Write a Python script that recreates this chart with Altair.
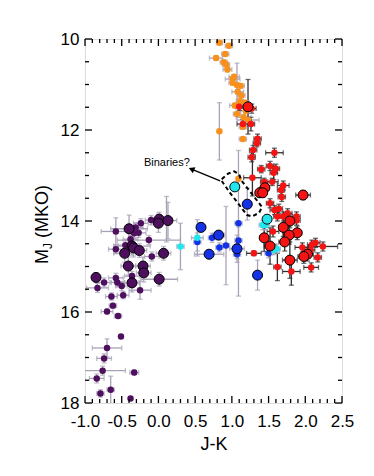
import altair as alt
import pandas as pd

# ---------------- data ----------------
# Orange: early/mid L dwarfs (small symbols, grey error bars)
orange_jk = [0.83, 0.96, 0.91, 0.785, 0.89, 0.92, 0.94, 1.03, 1.07, 1.01, 1.01, 1.12, 1.08, 1.13, 1.11,
             1.04, 1.18, 1.07, 1.19, 1.16, 1.22, 1.15, 1.15, 0.83, 1.09]
orange_mj = [10.08, 10.15, 10.33, 10.42, 10.51, 10.56, 10.67, 10.83, 11.01, 10.88, 10.96, 11.03, 11.16, 11.24, 11.37,
             11.46, 11.40, 11.65, 11.58, 11.72, 11.78, 11.93, 12.20, 12.03, 13.07]
orange_xe = [0.04, 0.05, 0.05, 0.09, 0.05, 0.05, 0.06, 0.07, 0.0, 0.10, 0.05, 0.05, 0.08, 0.05, 0.05,
             0.07, 0.05, 0.05, 0.08, 0.10, 0.15, 0.05, 0.05, 0.0, 0.0]
orange_ye = [0.04, 0.05, 0.05, 0.05, 0.05, 0.05, 0.05, 0.05, 0.48, 0.05, 0.05, 0.05, 0.05, 0.05, 0.05,
             0.05, 0.05, 0.05, 0.05, 0.05, 0.05, 0.05, 0.05, 0.63, 0.0]

# Red: late L / L-T dwarfs, small symbols
red_jk = [1.10, 1.27, 1.15, 1.26, 1.35, 1.34, 1.29, 1.27, 1.58, 1.40, 1.52, 1.60, 1.57, 1.28, 1.55, 1.44,
          1.70, 1.67, 1.68, 1.52, 1.58, 1.64, 1.76, 1.88, 1.62, 1.70, 1.88, 1.56, 1.96, 2.14, 2.24, 2.09,
          2.07, 2.17, 2.08, 1.62, 1.81, 1.30]
red_mj = [11.49, 11.53, 11.87, 11.87, 12.19, 12.29, 12.44, 12.60, 12.50, 12.86, 12.79, 12.85, 12.94, 13.05, 13.14, 13.14,
          13.22, 13.32, 13.47, 13.61, 13.76, 13.73, 13.83, 13.90, 13.90, 13.90, 13.99, 14.23, 14.58, 14.48, 14.56, 14.52,
          14.64, 14.80, 15.02, 15.01, 15.11, 14.71]
red_xe = [0.05, 0.06, 0.08, 0.05, 0.05, 0.05, 0.05, 0.05, 0.12, 0.05, 0.05, 0.05, 0.05, 0.12, 0.08, 0.05,
          0.08, 0.05, 0.05, 0.05, 0.06, 0.05, 0.06, 0.05, 0.05, 0.05, 0.05, 0.08, 0.10, 0.06, 0.20, 0.06,
          0.06, 0.05, 0.10, 0.05, 0.12, 0.10]
red_ye = [0.08, 0.10, 0.10, 0.15, 0.10, 0.08, 0.10, 0.10, 0.10, 0.08, 0.10, 0.10, 0.15, 0.40, 0.08, 0.08,
          0.10, 0.10, 0.10, 0.10, 0.10, 0.10, 0.10, 0.10, 0.10, 0.10, 0.10, 0.12, 0.10, 0.10, 0.10, 0.10,
          0.10, 0.10, 0.10, 0.30, 0.30, 0.05]

# Red: large symbols
redb_jk = [1.22, 1.45, 1.38, 1.42, 1.97, 1.79, 1.70, 1.89, 1.78, 1.44, 1.72, 1.52, 2.03, 1.98, 1.79]
redb_mj = [11.49, 13.27, 13.38, 13.38, 13.43, 14.00, 14.14, 14.26, 14.31, 14.37, 14.46, 14.55, 14.73, 14.78, 14.86]
redb_xe = [0.05, 0.06, 0.05, 0.05, 0.10, 0.06, 0.06, 0.06, 0.08, 0.06, 0.08, 0.08, 0.08, 0.08, 0.10]
redb_ye = [0.60, 0.10, 0.10, 0.10, 0.10, 0.15, 0.20, 0.15, 0.20, 0.30, 0.20, 0.40, 0.15, 0.15, 0.40]

# Blue: mid T dwarfs
blue_jk = [0.73, 1.09, 1.09, 0.92, 0.83, 1.07, 0.53, 1.50]
blue_mj = [14.37, 14.05, 14.43, 14.54, 14.58, 14.73, 14.46, 14.71]
blue_xe = [0.05, 0.05, 0.05, 0.05, 0.05, 0.05, 0.05, 0.05]
blue_ye = [0.10, 1.60, 0.30, 0.86, 0.10, 0.10, 0.20, 0.10]

blueb_jk = [1.21, 0.58, 0.82, 1.07, 0.69, 1.35]
blueb_mj = [13.63, 14.14, 14.31, 14.61, 14.73, 15.19]
blueb_xe = [0.05, 0.05, 0.08, 0.10, 0.20, 0.05]
blueb_ye = [0.35, 0.10, 0.10, 0.30, 0.10, 0.33]

# Cyan
cyan_jk = [1.42, 1.46, 1.61, 1.57, 0.53, 0.30, 0.11]
cyan_mj = [14.09, 14.09, 14.61, 14.64, 14.37, 14.56, 13.96]
cyan_xe = [0.05, 0.05, 0.05, 0.08, 0.08, 0.05, 0.05]
cyan_ye = [0.10, 0.10, 0.10, 0.10, 0.40, 0.51, 0.50]

cyanb_jk = [1.04, 1.48]
cyanb_mj = [13.25, 13.96]
cyanb_xe = [0.0, 0.05]
cyanb_ye = [0.0, 0.10]

# Purple: late T dwarfs
purp_jk = [-0.10, -0.24, -0.31, -0.27, -0.33, -0.58, -0.38, -0.13, -0.45, -0.58, -0.09, -0.36, -0.58, -0.56,
           -0.74, -0.50, -0.83, -0.25, -0.48, -0.64, -0.62, -0.70, -0.55, -0.51, -0.70, -0.74, -0.76, -0.33,
           -0.84, -0.65, -0.79, -0.38]
purp_mj = [13.98, 14.05, 14.14, 14.26, 14.27, 14.23, 14.40, 14.42, 14.53, 14.62, 14.78, 15.21, 15.25, 15.35,
           15.35, 15.43, 15.47, 15.52, 15.63, 15.66, 15.86, 15.99, 16.09, 16.54, 16.79, 17.02, 17.29, 17.33,
           17.46, 17.71, 17.79, 17.90]
purp_xe = [0.08, 0.10, 0.10, 0.10, 0.08, 0.20, 0.10, 0.43, 0.10, 0.10, 0.10, 0.10, 0.10, 0.10,
           0.10, 0.08, 0.15, 0.15, 0.08, 0.08, 0.05, 0.08, 0.05, 0.0, 0.20, 0.10, 0.31, 0.06,
           0.10, 0.05, 0.05, 0.0]
purp_ye = [0.10, 0.10, 0.10, 0.10, 0.10, 0.30, 0.10, 0.10, 0.10, 0.10, 0.10, 0.10, 0.10, 0.10,
           0.10, 0.10, 0.10, 0.20, 0.08, 0.08, 0.05, 0.05, 0.05, 0.0, 0.20, 0.10, 0.10, 0.05,
           0.10, 0.30, 0.08, 0.0]

purpb_jk = [0.01, 0.0, 0.13, -0.40, -0.36, -0.34, -0.46, -0.26, 0.07, -0.41, -0.21, -0.20, -0.85, 0.01, -0.36]
purpb_mj = [13.96, 14.05, 13.99, 14.17, 14.55, 14.59, 14.71, 14.65, 14.71, 14.99, 14.99, 15.14, 15.24, 15.28, 15.36]
purpb_xe = [0.10, 0.10, 0.12, 0.25, 0.25, 0.10, 0.15, 0.10, 0.10, 0.10, 0.10, 0.10, 0.05, 0.25, 0.10]
purpb_ye = [0.15, 0.20, 0.40, 0.30, 0.20, 0.20, 0.20, 0.15, 0.15, 0.20, 0.20, 0.20, 0.10, 0.15, 0.20]

# Annotation ("Binaries?"): label, arrow and dashed outline, in data units
label_jk, label_mj = [0.115], [12.73]
arrow_jk = [0.84, 0.45]
arrow_mj = [13.12, 12.86]
outline_jk = [0.862, 0.948, 1.03, 1.098, 1.125, 1.411, 1.371, 1.275, 1.207, 0.975, 0.862]
outline_mj = [13.08, 12.96, 12.91, 12.97, 13.10, 13.69, 13.82, 13.90, 13.87, 13.38, 13.12]

# Axis ticks
x_major = [-1.0, -0.5, 0.0, 0.5, 1.0, 1.5, 2.0, 2.5]
x_minor = [-0.9, -0.8, -0.7, -0.6, -0.4, -0.3, -0.2, -0.1, 0.1, 0.2, 0.3, 0.4, 0.6, 0.7, 0.8, 0.9,
           1.1, 1.2, 1.3, 1.4, 1.6, 1.7, 1.8, 1.9, 2.1, 2.2, 2.3, 2.4]
y_major = [10, 12, 14, 16, 18]
y_minor = [10.5, 11, 11.5, 12.5, 13, 13.5, 14.5, 15, 15.5, 16.5, 17, 17.5]

# ---------------- styling ----------------
ORANGE = "#F8901C"
RED = "#F41414"
BLUE = "#1432E6"
CYAN = "#22E6EE"
PURPLE = "#4E0F5E"
GREY_ERR = "#A8A2B6"
DARK_ERR = "#2E2E2E"

W, H = 257, 364
FONT = "Liberation Sans"


def rows(jk, mj, xe, ye, col, ecol, big):
    return [dict(jk=a, mj=b, xe=c, ye=d, col=col, ecol=ecol, big=big)
            for a, b, c, d in zip(jk, mj, xe, ye)]


recs = []
recs += rows(orange_jk, orange_mj, orange_xe, orange_ye, ORANGE, GREY_ERR, 0)
recs += rows(purp_jk, purp_mj, purp_xe, purp_ye, PURPLE, GREY_ERR, 0)
recs += rows(red_jk, red_mj, red_xe, red_ye, RED, DARK_ERR, 0)
recs += rows(blue_jk, blue_mj, blue_xe, blue_ye, BLUE, GREY_ERR, 0)
recs += rows(cyan_jk, cyan_mj, cyan_xe, cyan_ye, CYAN, GREY_ERR, 0)
recs += rows(purpb_jk, purpb_mj, purpb_xe, purpb_ye, PURPLE, GREY_ERR, 1)
recs += rows(redb_jk, redb_mj, redb_xe, redb_ye, RED, DARK_ERR, 1)
recs += rows(blueb_jk, blueb_mj, blueb_xe, blueb_ye, BLUE, GREY_ERR, 1)
recs += rows(cyanb_jk, cyanb_mj, cyanb_xe, cyanb_ye, CYAN, GREY_ERR, 1)
df = pd.DataFrame(recs)
df["xlo"] = df.jk - df.xe
df["xhi"] = df.jk + df.xe
df["ylo"] = df.mj - df.ye
df["yhi"] = df.mj + df.ye

xscale = alt.Scale(domain=[-1.0, 2.5], nice=False, zero=False)
yscale = alt.Scale(domain=[10, 18], reverse=True, nice=False, zero=False)

xaxis = alt.Axis(title="J-K", values=x_major, ticks=False, domain=False, grid=False,
                 labelFontSize=17, labelFont=FONT, labelColor="black", labelPadding=10,
                 labelFlush=False, labelOverlap=False,
                 labelExpr="datum.value < 0 ? '-' + format(-datum.value, '.1f') : format(datum.value, '.1f')",
                 titleFontSize=18, titleFont=FONT, titleFontWeight="normal", titleColor="black",
                 titlePadding=6)
yaxis = alt.Axis(title="", values=y_major, format="d", ticks=False, domain=False, grid=False,
                 labelFontSize=17, labelFont=FONT, labelColor="black", labelPadding=6,
                 labelFlush=False, labelOverlap=False)


def X(field):
    return alt.X(field, type="quantitative", scale=xscale, axis=xaxis)


def Y(field):
    return alt.Y(field, type="quantitative", scale=yscale, axis=yaxis)


base = alt.Chart(df)
ecolor = alt.Color("ecol:N", scale=None)

xerr = base.transform_filter("datum.xe > 0").mark_rule(strokeWidth=1.3, clip=True).encode(
    x=X("xlo"), x2="xhi:Q", y=Y("mj"), color=ecolor)
yerr = base.transform_filter("datum.ye > 0").mark_rule(strokeWidth=1.3, clip=True).encode(
    x=X("jk"), y=Y("ylo"), y2="yhi:Q", color=ecolor)
xcap_lo = base.transform_filter("datum.xe > 0").mark_tick(orient="vertical", size=5, thickness=1.3, clip=True).encode(
    x=X("xlo"), y=Y("mj"), color=ecolor)
xcap_hi = base.transform_filter("datum.xe > 0").mark_tick(orient="vertical", size=5, thickness=1.3, clip=True).encode(
    x=X("xhi"), y=Y("mj"), color=ecolor)
ycap_lo = base.transform_filter("datum.ye > 0").mark_tick(orient="horizontal", size=5, thickness=1.3, clip=True).encode(
    x=X("jk"), y=Y("ylo"), color=ecolor)
ycap_hi = base.transform_filter("datum.ye > 0").mark_tick(orient="horizontal", size=5, thickness=1.3, clip=True).encode(
    x=X("jk"), y=Y("yhi"), color=ecolor)

small_pts = base.transform_filter("datum.big == 0").mark_circle(size=42, opacity=1).encode(
    x=X("jk"), y=Y("mj"), color=alt.Color("col:N", scale=None))
big_pts = base.transform_filter("datum.big == 1").mark_point(
    shape="circle", filled=True, size=100, opacity=1, stroke="black", strokeWidth=1.0).encode(
    x=X("jk"), y=Y("mj"), fill=alt.Fill("col:N", scale=None))

# annotation
outline = alt.Chart(pd.DataFrame({"jk": outline_jk, "mj": outline_mj, "i": list(range(len(outline_jk)))})).mark_line(
    color="black", strokeWidth=2, strokeDash=[4, 3]).encode(x=X("jk"), y=Y("mj"), order="i:Q")
arrow_df = pd.DataFrame({"jk": arrow_jk, "mj": arrow_mj, "i": [0, 1]})
arrow_line = alt.Chart(arrow_df).mark_line(color="black", strokeWidth=1.3).encode(
    x=X("jk"), y=Y("mj"), order="i:Q")
arrow_head = alt.Chart(arrow_df.iloc[[1]]).mark_point(
    shape="triangle-left", angle=23, size=45, filled=True, color="black", opacity=1).encode(
    x=X("jk"), y=Y("mj"))
label = alt.Chart(pd.DataFrame({"jk": label_jk, "mj": label_mj, "t": ["Binaries?"]})).mark_text(
    font=FONT, fontSize=11, color="black", align="center", baseline="middle").encode(
    x=X("jk"), y=Y("mj"), text="t:N")

# frame ticks (inward, on all four sides)
MAJ, MIN = 7, 4
def xticks(vals, L):
    d = alt.Chart(pd.DataFrame({"v": vals}))
    top = d.mark_rule(color="black", strokeWidth=1.3).encode(x=X("v"), y=alt.value(0), y2=alt.value(L))
    bot = d.mark_rule(color="black", strokeWidth=1.3).encode(x=X("v"), y=alt.value(H), y2=alt.value(H - L))
    return [top, bot]


def yticks(vals, L):
    d = alt.Chart(pd.DataFrame({"v": vals}))
    lef = d.mark_rule(color="black", strokeWidth=1.3).encode(y=Y("v"), x=alt.value(0), x2=alt.value(L))
    rig = d.mark_rule(color="black", strokeWidth=1.3).encode(y=Y("v"), x=alt.value(W), x2=alt.value(W - L))
    return [lef, rig]


tick_layers = xticks(x_major, MAJ) + xticks(x_minor, MIN) + yticks(y_major, MAJ) + yticks(y_minor, MIN)

# y title: M_J (MKO) with subscript J
one = pd.DataFrame({"a": [0]})
t_M = alt.Chart(one).mark_text(text="M", font=FONT, fontSize=18, angle=270, align="left",
                               baseline="middle", color="black").encode(x=alt.value(-42), y=alt.value(225))
t_J = alt.Chart(one).mark_text(text="J", font=FONT, fontSize=12, angle=270, align="left",
                               baseline="middle", color="black").encode(x=alt.value(-37), y=alt.value(210))
t_rest = alt.Chart(one).mark_text(text="(MKO)", font=FONT, fontSize=18, angle=270, align="left",
                                  baseline="middle", color="black").encode(x=alt.value(-42), y=alt.value(199))

chart = alt.layer(
    xerr, yerr, xcap_lo, xcap_hi, ycap_lo, ycap_hi,
    small_pts, big_pts,
    outline, arrow_line, arrow_head, label,
    *tick_layers,
    t_M, t_J, t_rest,
).properties(
    width=W, height=H,
    autosize=alt.AutoSizeParams(type="none"),
    padding={"left": 77, "top": 31, "right": 20, "bottom": 55},
    background="white",
).configure_view(stroke="black", strokeWidth=2).configure(font=FONT)

chart.save("out.html", embed_options={"renderer": "svg", "actions": False})
